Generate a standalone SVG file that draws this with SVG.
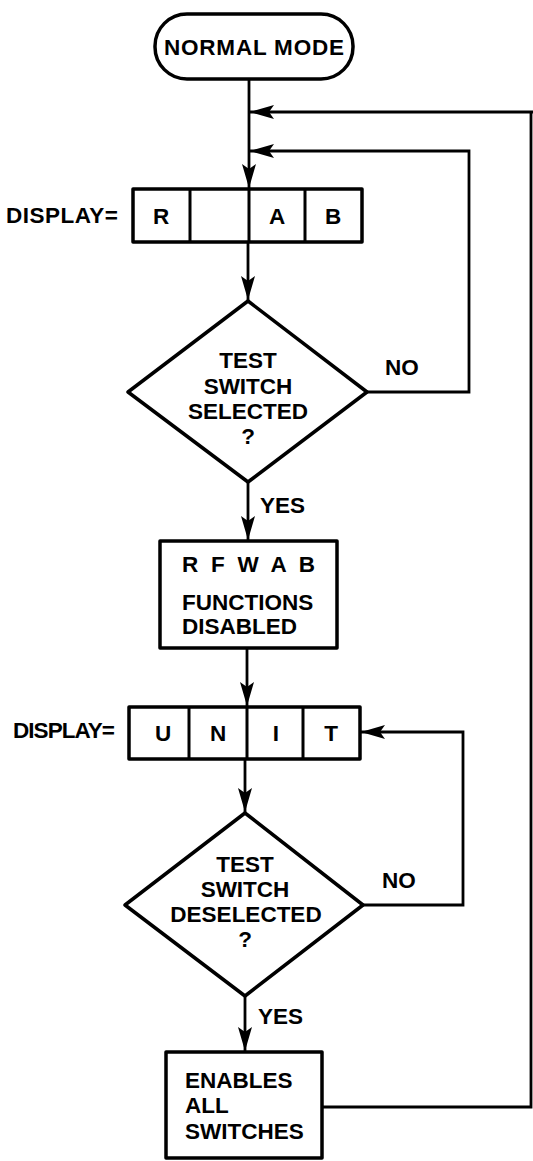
<svg xmlns="http://www.w3.org/2000/svg" width="533" height="1161" viewBox="0 0 533 1161">
<style>
.s{fill:#fff;stroke:#000;stroke-width:3.5;stroke-linejoin:round}
.c{fill:none;stroke:#000;stroke-width:2.8}
.t{font-family:"Liberation Sans",Arial,sans-serif;font-weight:bold;font-size:22.5px;fill:#000}
.m{text-anchor:middle}
</style>
<defs>
<marker id="ah" viewBox="0 0 24 14" refX="24" refY="7" markerWidth="24" markerHeight="14" markerUnits="userSpaceOnUse" orient="auto">
<path d="M0,0 L24,7 L0,14 L5,7 Z" fill="#000"/>
</marker>
</defs>
<g id="connectors">
<path class="c" d="M249,79 V188" marker-end="url(#ah)"/>
<path class="c" d="M533,112 H250" marker-end="url(#ah)"/>
<path class="c" d="M367,392 H469 V151 H250" marker-end="url(#ah)"/>
<path class="c" d="M248,242 V300" marker-end="url(#ah)"/>
<path class="c" d="M248,482 V540" marker-end="url(#ah)"/>
<path class="c" d="M247,648 V706" marker-end="url(#ah)"/>
<path class="c" d="M245,759 V812" marker-end="url(#ah)"/>
<path class="c" d="M363,905 H463 V732 H361" marker-end="url(#ah)"/>
<path class="c" d="M245,996 V1051" marker-end="url(#ah)"/>
<path class="c" d="M322,1107 H531 V112"/>
<text class="t" x="385" y="375">NO</text>
<text class="t" x="260" y="513">YES</text>
<text class="t" x="382" y="888">NO</text>
<text class="t" x="258" y="1024">YES</text>
</g>
<g id="start">
<rect class="s" x="155" y="14" width="198" height="65" rx="32" ry="32"/>
<text class="t" x="164" y="55" textLength="180">NORMAL MODE</text>
</g>
<g id="display1">
<text class="t" x="6" y="223" textLength="112">DISPLAY=</text>
<rect class="s" x="133" y="189" width="229" height="53"/>
<path class="c" d="M190,189 V242 M249,189 V242 M305,189 V242" style="stroke-width:3"/>
<text class="t m" x="161" y="224">R</text>
<text class="t m" x="277" y="224">A</text>
<text class="t m" x="333" y="224">B</text>
</g>
<g id="decision1">
<polygon class="s" points="248,301 367,392 248,482 128,392"/>
<text class="t m" x="248" y="368">TEST</text>
<text class="t m" x="248" y="394">SWITCH</text>
<text class="t m" x="248" y="419">SELECTED</text>
<text class="t m" x="248" y="444">?</text>
</g>
<g id="disabled">
<rect class="s" x="160" y="541" width="177" height="107"/>
<text class="t" x="182" y="572" xml:space="preserve" textLength="133">R  F  W  A  B</text>
<text class="t" x="182" y="610">FUNCTIONS</text>
<text class="t" x="182" y="634">DISABLED</text>
</g>
<g id="display2">
<text class="t" x="13" y="738" textLength="102">DISPLAY=</text>
<rect class="s" x="129" y="707" width="231" height="52"/>
<path class="c" d="M189,707 V759 M247,707 V759 M303,707 V759" style="stroke-width:3"/>
<text class="t m" x="163" y="741">U</text>
<text class="t m" x="218" y="741">N</text>
<text class="t m" x="276" y="741">I</text>
<text class="t m" x="331" y="741">T</text>
</g>
<g id="decision2">
<polygon class="s" points="245,813 363,905 245,996 125,905"/>
<text class="t m" x="245" y="872">TEST</text>
<text class="t m" x="245" y="897">SWITCH</text>
<text class="t m" x="246" y="922">DESELECTED</text>
<text class="t m" x="245" y="947">?</text>
</g>
<g id="enables">
<rect class="s" x="166" y="1052" width="156" height="106"/>
<text class="t" x="185" y="1088">ENABLES</text>
<text class="t" x="185" y="1113">ALL</text>
<text class="t" x="185" y="1139">SWITCHES</text>
</g>
</svg>
